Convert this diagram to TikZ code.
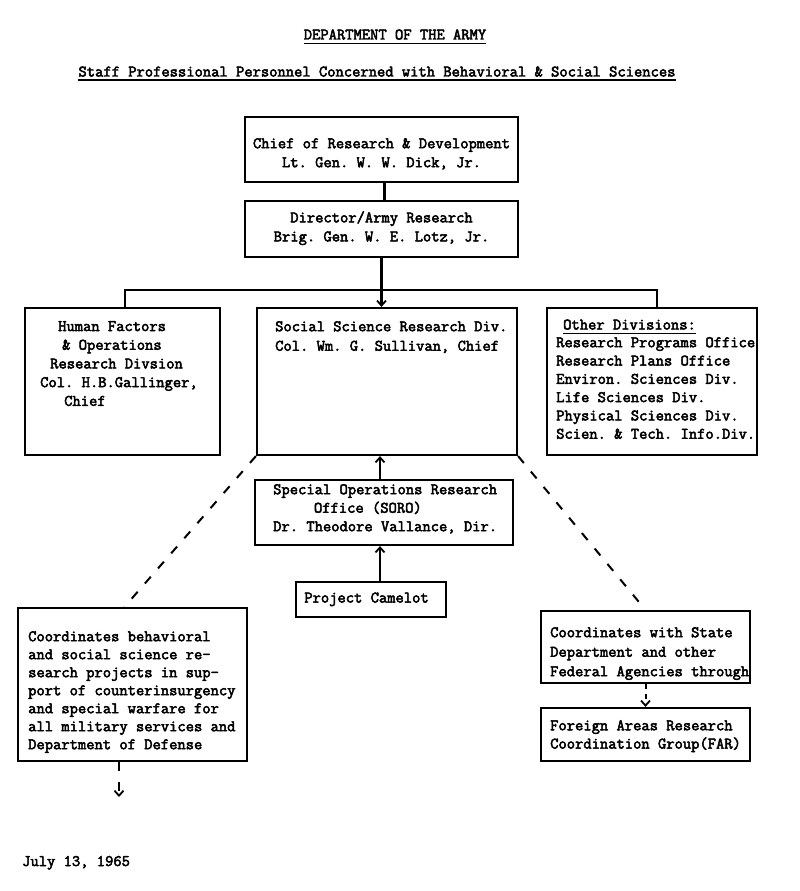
\documentclass[tikz,border=0pt]{standalone}
\usepackage{fontspec}
\newfontfamily\tw{Latin Modern Mono}[FakeBold=3]
\usetikzlibrary{arrows.meta}
\frenchspacing
\begin{document}
\begin{tikzpicture}[x=1pt,y=-1pt,
  box/.style={draw,line width=2.2pt,inner sep=0pt},
  txt/.style={font=\tw\fontsize{16.1}{18.3}\selectfont,inner sep=0pt,align=left},
  ctxt/.style={font=\tw\fontsize{16.1}{19}\selectfont,inner sep=0pt,align=center},
  conn/.style={line width=2.2pt},
  tip/.style={-{Straight Barb[length=5pt,width=9pt,line width=1.8pt]}},
  dsh/.style={line width=2pt,dash pattern=on 9pt off 11pt},
  uline/.style={line width=1.8pt}]
\useasboundingbox (0,0) rectangle (800,891);
\fill[white] (0,0) rectangle (800,891);

% titles
\node[txt,anchor=base] (title) at (395,39.5) {DEPARTMENT OF THE ARMY};
\draw[uline] ([yshift=-4pt]title.base west) -- ([yshift=-4pt]title.base east);
\node[txt,anchor=base] (subtitle) at (377,76.5) {Staff Professional Personnel Concerned with Behavioral \& Social Sciences};
\draw[uline] ([yshift=-3.5pt]subtitle.base west) -- ([yshift=-3.5pt]subtitle.base east);

% boxes
\node[box,minimum width=273pt,minimum height=65pt] (chief) at (381.5,149.5) {};
\node[box,minimum width=273pt,minimum height=56pt] (director) at (381.5,229) {};
\node[box,minimum width=195pt,minimum height=147pt] (hf) at (122.5,381.5) {};
\node[box,minimum width=260pt,minimum height=147pt] (ssrd) at (387,381.5) {};
\node[box,minimum width=210pt,minimum height=147pt] (other) at (652,381.5) {};
\node[box,minimum width=258pt,minimum height=65pt] (soro) at (384,512.5) {};
\node[box,minimum width=150pt,minimum height=35pt] (camelot) at (371,599.5) {};
\node[box,minimum width=229pt,minimum height=153pt] (coord) at (132.5,684.5) {};
\node[box,minimum width=209pt,minimum height=72pt] (state) at (645.5,647) {};
\node[box,minimum width=209pt,minimum height=53pt] (far) at (645.5,734.5) {};

% texts
\node[ctxt,anchor=north] (chieft) at (381.5,138) {Chief of Research \& Development\\Lt. Gen. W. W. Dick, Jr.};
\node[ctxt,anchor=north] (directort) at (381.5,211) {Director/Army Research\\Brig. Gen. W. E. Lotz, Jr.};
\node[txt,anchor=north west,font=\tw\fontsize{16.1}{18.7}\selectfont] (hft) at (40,321)
  {\hspace*{18pt}Human Factors\\\hspace*{22pt}\& Operations\\\hspace*{10pt}Research Divsion\\Col. H.B.Gallinger,\\\hspace*{24pt}Chief};
\node[txt,anchor=north west,font=\tw\fontsize{16.1}{19.5}\selectfont] (ssrdt) at (275,321)
  {Social Science Research Div.\\Col. Wm. G. Sullivan, Chief};
\node[txt,anchor=base west] (otherh) at (563,329.5) {Other Divisions:};
\draw[uline] ([yshift=-4pt]otherh.base west) -- ([yshift=-4pt]otherh.base east);
\node[txt,anchor=north west] (othert) at (556,337)
  {Research Programs Office\\Research Plans Office\\Environ. Sciences Div.\\Life Sciences Div.\\Physical Sciences Div.\\Scien. \& Tech. Info.Div.};
\node[txt,anchor=north west,font=\tw\fontsize{16.1}{18.5}\selectfont] (sorot) at (273,484)
  {Special Operations Research\\\hspace*{40.8pt}Office (SORO)\\Dr. Theodore Vallance, Dir.};
\node[txt,anchor=base] (camelott) at (366.5,602.5) {Project Camelot};
\node[txt,anchor=north west,font=\tw\fontsize{16.1}{18}\selectfont] (coordt) at (28,631)
  {Coordinates behavioral\\and social science re-\\search projects in sup-\\port of counterinsurgency\\and special warfare for\\all military services and\\Department of Defense};
\node[txt,anchor=north west,font=\tw\fontsize{16.1}{19.5}\selectfont] (statet) at (550,627)
  {Coordinates with State\\Department and other\\Federal Agencies through};
\node[txt,anchor=north west] (fart) at (550,720)
  {Foreign Areas Research\\Coordination Group(FAR)};
\node[txt,anchor=base west] (date) at (22,866) {July 13, 1965};

% connectors
\coordinate (bar) at (381.5,290);
\coordinate (ax) at (380,0);
\coordinate (out) at (119,797);
\draw[conn] ([xshift=3pt]chief.south) -- ([xshift=3pt]director.north);
\draw[conn,tip] (director.south) -- (director.south |- ssrd.north);
\draw[conn] ([xshift=2.5pt]hf.north) |- ([xshift=5pt]other.north |- bar) -- ([xshift=5pt]other.north);
\draw[conn,tip] (soro.north -| ax) -- (ssrd.south -| ax);
\draw[conn,tip] (camelot.north -| ax) -- (soro.south -| ax);
\draw[dsh] (ssrd.south west) -- ([xshift=-8pt]coord.north);
\draw[dsh] (ssrd.south east) -- (state.north);
\draw[dsh,tip] (coord.south -| out) -- (out);
\draw[dsh,tip,dash pattern=on 5pt off 5pt] (state.south) -- (far.north);
\end{tikzpicture}
\end{document}
